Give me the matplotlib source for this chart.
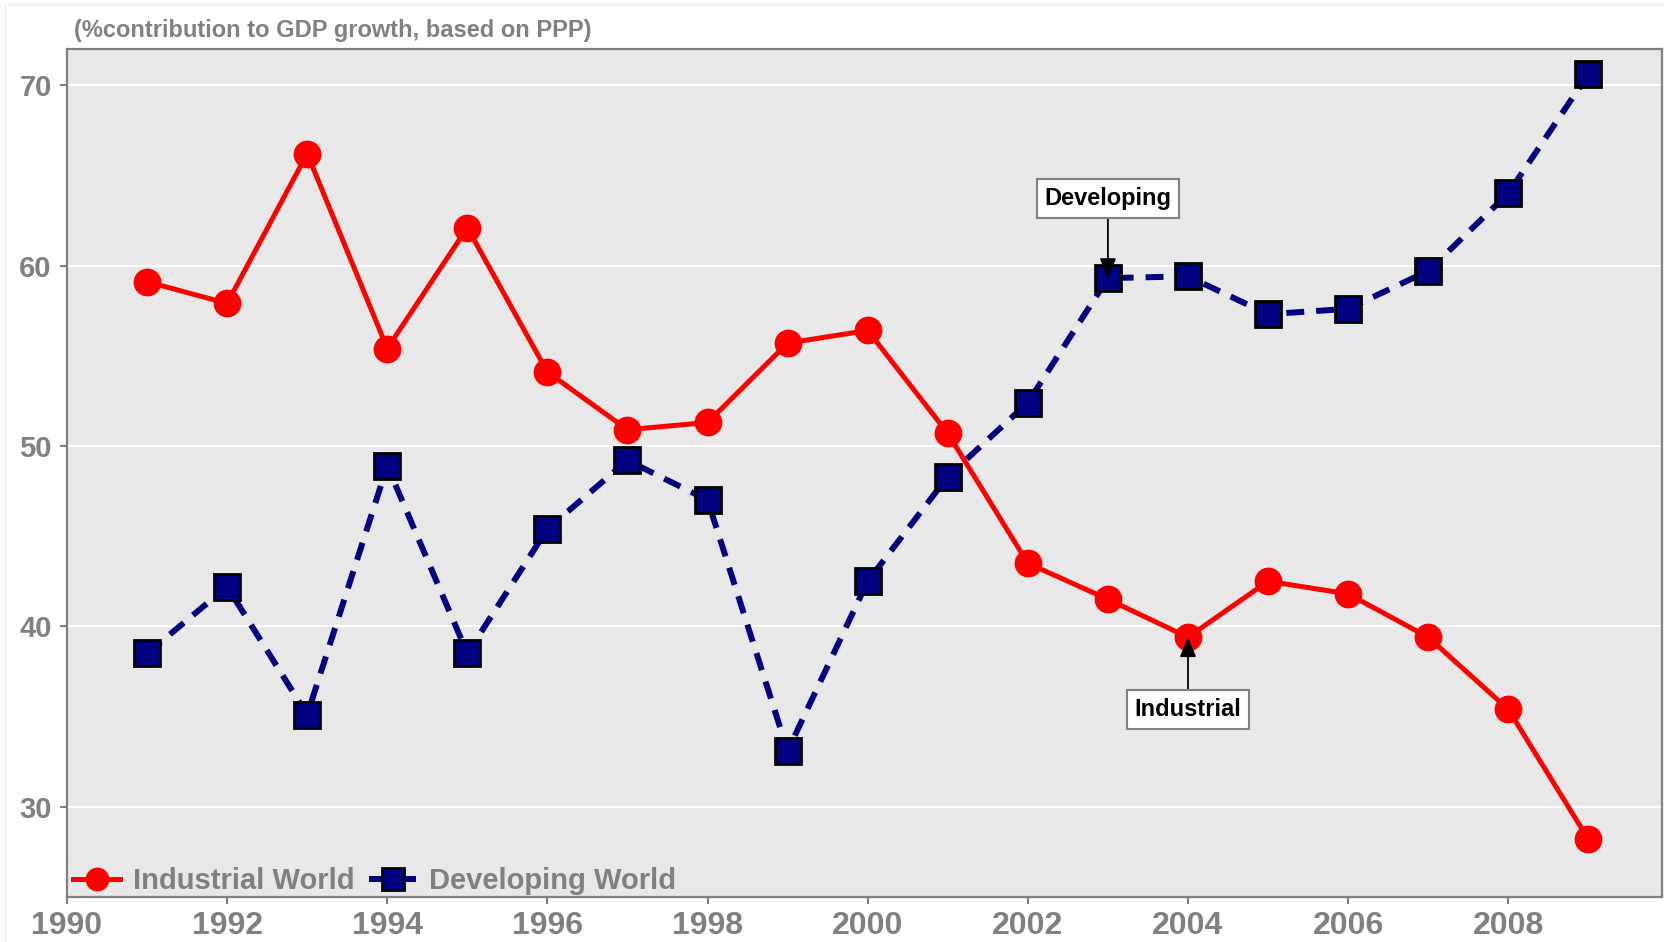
import matplotlib
matplotlib.use("Agg")
import matplotlib.pyplot as plt
from matplotlib.patches import Rectangle

# ---- data ----
years = [1991, 1992, 1993, 1994, 1995, 1996, 1997, 1998, 1999, 2000,
         2001, 2002, 2003, 2004, 2005, 2006, 2007, 2008, 2009]
industrial = [59.1, 57.9, 66.2, 55.4, 62.1, 54.1, 50.9, 51.3, 55.7, 56.4,
              50.7, 43.5, 41.5, 39.4, 42.5, 41.8, 39.4, 35.4, 28.2]
developing = [38.5, 42.2, 35.1, 48.9, 38.5, 45.4, 49.2, 47.0, 33.1, 42.5,
              48.3, 52.4, 59.3, 59.4, 57.3, 57.6, 59.7, 64.0, 70.6]
series_labels = ["Industrial World", "Developing World"]
x_ticks = [1990, 1992, 1994, 1996, 1998, 2000, 2002, 2004, 2006, 2008]
y_ticks = [30, 40, 50, 60, 70]
title = "(%contribution to GDP growth, based on PPP)"
ann_dev = ("Developing", 2003, 59.3, 63.7)
ann_ind = ("Industrial", 2004, 39.4, 35.4)

FONT = "Liberation Sans"
GRAY = "#808080"
plt.rcParams["font.family"] = [FONT, "DejaVu Sans"]

W, H = 1664, 942
fig = plt.figure(figsize=(W / 100, H / 100), dpi=100)
fig.patch.set_facecolor("white")

# faint outer frame
fig.add_artist(Rectangle((5 / W, -0.1), 1.2, 1.1 - 4 / H, transform=fig.transFigure,
                         fill=False, ec="#EEEEEE", lw=1))

L, R, T, B = 67, 1662, 49, 897
ax = fig.add_axes([L / W, 1 - B / H, (R - L) / W, (B - T) / H])
ax.set_facecolor("#E8E8E8")
ax.set_xlim(1990, 2009.92)
ax.set_ylim(25, 72)

for y in y_ticks:
    ax.axhline(y, color="white", lw=1.5, zorder=1)

ax.plot(years, developing, color="#000080", lw=4.3, dashes=(3, 2),
        marker="s", markersize=18.5, markerfacecolor="#000080",
        markeredgecolor="black", markeredgewidth=2, zorder=3,
        label=series_labels[1])
ax.plot(years, industrial, color="#FF0000", lw=3.6,
        marker="o", markersize=19, markerfacecolor="#FF0000",
        markeredgecolor="#FF0000", zorder=4, label=series_labels[0])

ax.set_xticks(x_ticks)
ax.set_yticks(y_ticks)
ax.tick_params(axis="both", colors=GRAY, width=1.5, length=5, direction="out")
ax.tick_params(axis="x", pad=5, labelsize=23)
ax.tick_params(axis="y", pad=6, labelsize=21)
for lab in ax.get_xticklabels() + ax.get_yticklabels():
    lab.set_fontweight("bold")
    lab.set_color(GRAY)
for sp in ax.spines.values():
    sp.set_color(GRAY)
    sp.set_linewidth(1.6)

# legend (industrial first)
h, l = ax.get_legend_handles_labels()
leg = ax.legend([h[1], h[0]], [l[1], l[0]], loc="center left",
                bbox_to_anchor=(0.004, 16 / (B - T)), ncol=2, frameon=False,
                prop={"family": FONT, "weight": "bold", "size": 21},
                labelcolor=GRAY, handlelength=1.6, handletextpad=0.45,
                columnspacing=0.5, borderpad=0, borderaxespad=0, markerscale=0.85)

fig.text(74 / W, 1 - 31 / H, title, ha="left", va="center", fontsize=17,
         fontweight="bold", color=GRAY)

arrowprops = dict(arrowstyle="-|>,head_length=0.6,head_width=0.25", color="black",
                  lw=1.3, mutation_scale=20, shrinkA=0, shrinkB=0)
bbox = dict(boxstyle="square,pad=0.33", fc="white", ec=GRAY, lw=1.5)
for txt, xv, yv, ty in (ann_dev, ann_ind):
    ax.annotate(txt, xy=(xv, yv), xytext=(xv, ty), textcoords="data",
                ha="center", va="center", fontsize=17, fontweight="bold",
                color="black", bbox=bbox, arrowprops=arrowprops, zorder=6)

fig.savefig("out.png", dpi=100)
